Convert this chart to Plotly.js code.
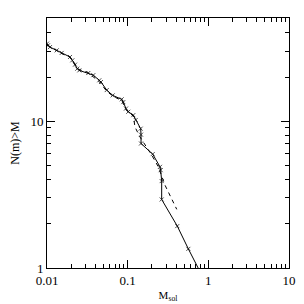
<!DOCTYPE html>
<html><head><meta charset="utf-8">
<script src="https://cdn.plot.ly/plotly-3.0.1.min.js"></script>
<style>html,body{margin:0;padding:0;background:#fff;}#c{width:304px;height:304px;}</style>
</head><body><div id="c"></div>
<script>
var massSolid = [0.0100,0.01029,0.01089,0.01319,0.01521,0.01928,0.02059,0.02224,0.02374,0.02514,0.03251,0.0375,0.04446,0.04667,0.0550,0.0652,0.0843,0.0883,0.0953,0.1018,0.1174,0.1258,0.1450,0.1464,0.1464,0.2043,0.2516,0.2566,0.264,0.264,0.412,0.565,0.80];
var countSolid = [33.8,32.9,32.0,30.4,29.2,27.4,26.0,24.3,22.8,22.2,21.3,20.6,19.0,18.5,16.3,15.0,14.1,13.5,12.2,11.6,11.0,10.2,8.9,8.1,7.05,5.97,4.89,4.64,3.91,2.93,1.93,1.35,0.93];
var massDashed = [0.0100,0.0115,0.0135,0.016,0.019,0.022,0.025,0.032,0.038,0.045,0.055,0.066,0.085,0.095,0.118,0.123,0.142,0.199,0.240,0.290,0.406];
var countDashed = [33.0,31.5,30.0,28.5,27.5,24.5,22.5,21.5,20.0,18.5,16.0,14.8,13.8,12.0,10.8,9.15,7.82,5.87,4.89,3.67,2.51];
var xTickVals = [0.01,0.1,1,10];
var xTickText = ['0.01','0.1','1','10'];
var yTickVals = [1,10];
var yTickText = ['1','10'];

var sizes = massSolid.map(function(v,i){return i===massSolid.length-1?0:4;});
var traces = [
  {x: massDashed, y: countDashed, mode:'lines', type:'scatter',
   line:{color:'#000', width:1, dash:'4px,4px'}, hoverinfo:'none'},
  {x: massSolid, y: countSolid, mode:'lines+markers', type:'scatter',
   line:{color:'#000', width:1},
   marker:{symbol:'x-thin', size:sizes, color:'#000', line:{color:'#000', width:1}}, hoverinfo:'none'}
];
var font = {family:'Liberation Serif, DejaVu Serif, serif', size:13, color:'#000'};
var layout = {
  width:304, height:304,
  margin:{l:47, r:15, t:18, b:36},
  paper_bgcolor:'#fff', plot_bgcolor:'#fff',
  showlegend:false,
  font: font,
  xaxis:{type:'log', range:[-2,1], tickvals:xTickVals, ticktext:xTickText,
    ticks:'inside', ticklen:8, tickwidth:1, tickcolor:'#000',
    minor:{ticks:'inside', ticklen:4, tickcolor:'#000', tickwidth:1, dtick:'D1', showgrid:false},
    showline:true, linecolor:'#000', linewidth:1, mirror:'allticks',
    showgrid:false, zeroline:false, tickfont:font,
    title:{text:'M<sub>sol</sub>', font:{family:font.family, size:11, color:'#000'}, standoff:4}},
  yaxis:{type:'log', range:[0, Math.log10(50.5)], tickvals:yTickVals, ticktext:yTickText,
    ticks:'inside', ticklen:8, tickwidth:1, tickcolor:'#000',
    minor:{ticks:'inside', ticklen:4, tickcolor:'#000', tickwidth:1, dtick:'D1', showgrid:false},
    showline:true, linecolor:'#000', linewidth:1, mirror:'allticks',
    showgrid:false, zeroline:false, tickfont:font,
    title:{text:'N(m)&gt;M', font:{family:font.family, size:12, color:'#000'}, standoff:8}}
};
Plotly.newPlot('c', traces, layout, {staticPlot:true, displayModeBar:false});
</script></body></html>
